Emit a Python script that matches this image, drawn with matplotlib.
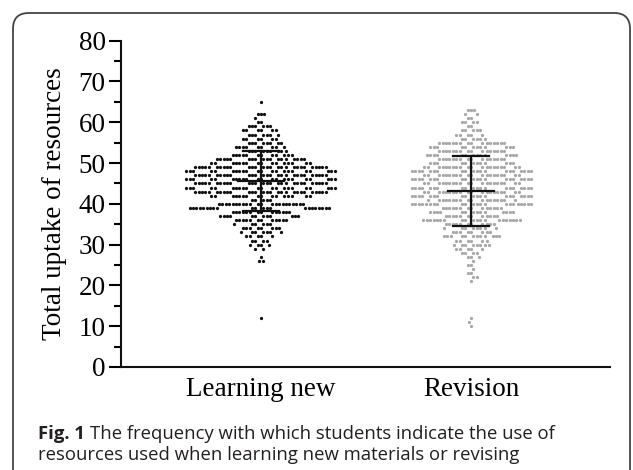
import numpy as np
import matplotlib
matplotlib.use('Agg')
import matplotlib.pyplot as plt
from matplotlib.patches import FancyBboxPatch

# scores (y value) and how many students gave each score
lrn_values = [65, 62, 61, 60, 59, 58, 57, 56, 55, 54, 53, 52, 51, 50, 49, 48, 47, 46, 45, 44,
              43, 42, 41, 40, 39, 38, 37, 36, 35, 34, 33, 32, 31, 30, 29, 27, 26, 12]
lrn_counts = [1, 3, 1, 2, 6, 6, 7, 6, 8, 9, 9, 12, 18, 16, 28, 22, 28, 22, 28, 22,
              28, 16, 5, 22, 22, 14, 12, 12, 6, 8, 7, 5, 4, 4, 2, 1, 2, 1]

rev_values = [63, 62, 61, 60, 59, 58, 57, 56, 55, 54, 53, 52, 51, 50, 49, 48, 47, 46, 45, 44,
              43, 42, 41, 40, 39, 38, 37, 36, 35, 34, 33, 32, 31, 30, 29, 28, 27, 26, 25, 24,
              23, 22, 21, 12, 11, 10]
rev_counts = [3, 2, 2, 4, 2, 5, 5, 6, 16, 12, 16, 14, 16, 12, 20, 20, 20, 20, 20, 20,
              20, 20, 18, 22, 14, 14, 12, 20, 11, 8, 8, 12, 6, 8, 5, 4, 3, 1, 2, 1,
              2, 2, 1, 1, 1, 1]

# mean and SD bars
groups = ['Learning new', 'Revision']
means = [45.5, 43.2]
sds = [7.35, 8.6]

W, H = 633, 470
fig = plt.figure(figsize=(W / 100, H / 100), dpi=100)

# rounded frame around the whole figure (open at the bottom edge)
frame = FancyBboxPatch((13 / W, -0.1), (630 - 13) / W, (H - 13) / H + 0.1,
                       boxstyle='round,pad=0,rounding_size=0.025', mutation_aspect=W / H,
                       transform=fig.transFigure, fill=False, edgecolor='#444444', linewidth=1.3)
fig.patches.append(frame)

ax = fig.add_axes([121 / W, (H - 367) / H, (610 - 121) / W, (367 - 40.7) / H])
ax.set_xlim(-0.667, 1.662)
ax.set_ylim(0, 80)

# swarm layout: greedy placement in pixel space with an elliptical "no overlap" zone
px_x = ax.bbox.width / (1.662 + 0.667)
px_y = ax.bbox.height / 80
a_px, b_px = 3.4, 5.5


def swarm(center, values, counts):
    ys = np.repeat(values, counts).astype(float)
    yp = ys * px_y
    placed_x, placed_y = [], []
    xs = []
    flip = 1
    for y in yp:
        px = np.array(placed_x)
        py = np.array(placed_y)
        near = np.abs(py - y) < b_px if len(py) else np.array([], bool)
        nx, ny = px[near], py[near]
        dy = ny - y
        off = a_px * np.sqrt(np.clip(1 - (dy / b_px) ** 2, 0, None))
        cand = np.concatenate([[0.0], nx + off, nx - off])
        order = np.lexsort((flip * cand, np.round(np.abs(cand), 6)))
        cand = cand[order]
        if len(nx):
            d = ((cand[:, None] - nx[None, :]) / a_px) ** 2 + (dy[None, :] / b_px) ** 2
            ok = np.all(d >= 1 - 1e-6, axis=1)
            x = cand[np.argmax(ok)]
        else:
            x = 0.0
        flip = -flip
        placed_x.append(x)
        placed_y.append(y)
        xs.append(center + x / px_x)
    return np.array(xs), ys


x0, y0 = swarm(0, lrn_values, lrn_counts)
x1, y1 = swarm(1, rev_values, rev_counts)
ax.scatter(x0, y0, s=5.5, color='#111111', linewidths=0, zorder=2)
ax.scatter(x1, y1, s=5.5, color='#a8a8a8', linewidths=0, zorder=2)

# mean line and SD error bars
for i, (m, s) in enumerate(zip(means, sds)):
    ax.plot([i, i], [m - s, m + s], color='#111111', lw=1.6, zorder=3)
    ax.plot([i - 0.086, i + 0.086], [m + s, m + s], color='#111111', lw=1.6, zorder=3)
    ax.plot([i - 0.086, i + 0.086], [m - s, m - s], color='#111111', lw=1.6, zorder=3)
    ax.plot([i - 0.108, i + 0.108], [m, m], color='#111111', lw=1.6, zorder=3)

ax.set_yticks(np.arange(0, 81, 10))
ax.set_yticks(np.arange(5, 80, 10), minor=True)
ax.set_xticks([0, 1])
ax.set_xticklabels(groups)

for sp_name in ['top', 'right']:
    ax.spines[sp_name].set_visible(False)
for sp_name in ['left', 'bottom']:
    ax.spines[sp_name].set_linewidth(1.5)
    ax.spines[sp_name].set_color('#111111')

serif = 'Liberation Serif'
fs = 19.5
ax.tick_params(axis='y', which='major', length=9, width=1.5, pad=2, labelsize=fs)
ax.tick_params(axis='y', which='minor', length=5, width=1.5)
ax.tick_params(axis='x', length=0, pad=7, labelsize=fs)
for lab in ax.get_xticklabels() + ax.get_yticklabels():
    lab.set_fontfamily(serif)
ax.set_ylabel('Total uptake of resources', fontsize=fs, fontfamily=serif, labelpad=8)

# caption
cap_font = 'Open Sans'
cap_fs = 13.3
t1 = fig.text(38 / W, (H - 439) / H, 'Fig. 1', fontsize=cap_fs, fontweight='bold', fontfamily=cap_font,
              color='#231f20', va='baseline')
fig.canvas.draw()
bb = t1.get_window_extent()
fig.text(bb.x1 / W + 5 / W, (H - 439) / H, 'The frequency with which students indicate the use of',
         fontsize=cap_fs, fontfamily=cap_font, color='#231f20', va='baseline')
fig.text(38 / W, (H - 460) / H, 'resources used when learning new materials or revising',
         fontsize=cap_fs, fontfamily=cap_font, color='#231f20', va='baseline')

fig.savefig('out.png', dpi=100)
